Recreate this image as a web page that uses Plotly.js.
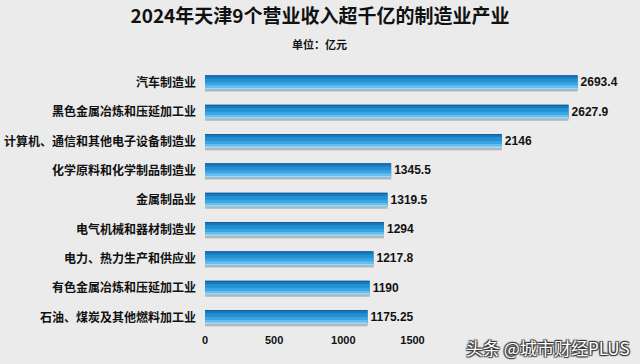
<!DOCTYPE html>
<html>
<head>
<meta charset="utf-8">
<script src="https://cdn.plot.ly/plotly-3.0.1.min.js"></script>
<style>html,body{margin:0;padding:0;background:#ebebeb;}#chart{width:640px;height:364px;}</style>
</head>
<body>
<div id="chart"></div>
<script>
const categories = [
  "汽车制造业",
  "黑色金属冶炼和压延加工业",
  "计算机、通信和其他电子设备制造业",
  "化学原料和化学制品制造业",
  "金属制品业",
  "电气机械和器材制造业",
  "电力、热力生产和供应业",
  "有色金属冶炼和压延加工业",
  "石油、煤炭及其他燃料加工业"
];
const values = [2693.4, 2627.9, 2146, 1345.5, 1319.5, 1294, 1217.8, 1190, 1175.25];
const valueLabels = ["2693.4", "2627.9", "2146", "1345.5", "1319.5", "1294", "1217.8", "1190", "1175.25"];
const xTicks = [0, 500, 1000, 1500];

const cjk = '"Noto Sans CJK SC", "Liberation Sans", sans-serif';
const num = '"Liberation Sans Narrow", "Liberation Sans", Arial, sans-serif';

// layered bands to imitate gradient + shadow
const bands = [
  {offset: -0.20, width: 0.50, color: 'rgba(130,130,130,0.5)'},
  {offset: -0.25, width: 0.48, color: '#2592d6'},
  {offset: -0.25, width: 0.05, color: '#12609a'},
  {offset: -0.20, width: 0.07, color: '#1a78bd'},
  {offset: -0.13, width: 0.12, color: '#2490d4'},
  {offset: -0.01, width: 0.10, color: '#3aa5e2'},
  {offset: 0.09, width: 0.08, color: '#63bfec'},
  {offset: 0.17, width: 0.06, color: '#a2dbf5'}
];

const traces = bands.map((b) => ({
  type: 'bar',
  orientation: 'h',
  y: categories,
  x: values,
  offset: b.offset,
  width: b.width,
  marker: {color: b.color, line: {width: 0}},
  hoverinfo: 'skip',
  showlegend: false
}));

traces.push({
  type: 'bar',
  orientation: 'h',
  y: categories,
  x: values,
  offset: -0.25,
  width: 0.48,
  marker: {color: 'rgba(0,0,0,0)'},
  text: valueLabels,
  textposition: 'outside',
  cliponaxis: false,
  textfont: {family: num, size: 12, color: '#111', weight: 'bold'},
  hoverinfo: 'skip',
  showlegend: false
});

const layout = {
  width: 640,
  height: 364,
  paper_bgcolor: '#ebebeb',
  plot_bgcolor: '#ebebeb',
  barmode: 'overlay',
  margin: {l: 205, r: 20, t: 68, b: 32},
  title: {
    text: '<b>2024年天津9个营业收入超千亿的制造业产业</b>',
    font: {family: cjk, size: 19, color: '#111'},
    x: 0.5, xanchor: 'center', y: 0.955, yanchor: 'middle'
  },
  annotations: [
    {text: '<b>单位：亿元</b>', xref: 'paper', yref: 'paper', x: 0.277, xanchor: 'center',
     y: 1, yanchor: 'bottom', yshift: 14, showarrow: false,
     font: {family: cjk, size: 11, color: '#111'}},
    {text: '头条 @城市财经PLUS', xref: 'paper', yref: 'paper', x: 1, xanchor: 'right',
     xshift: 12, y: 0, yanchor: 'middle', yshift: -15, showarrow: false,
     font: {family: cjk, size: 17, color: '#ffffff', shadow: '1px 1px 1px #333, -1px -1px 1px #333, 1px -1px 1px #333, -1px 1px 1px #333'}}
  ],
  xaxis: {
    range: [0, 3000],
    tickvals: xTicks,
    showgrid: false,
    zeroline: false,
    showline: false,
    ticks: '',
    tickfont: {family: num, size: 11, color: '#111', weight: 'bold'},
    fixedrange: true
  },
  yaxis: {
    autorange: 'reversed',
    showgrid: false,
    zeroline: false,
    ticks: '',
    ticklabelstandoff: 8,
    tickfont: {family: cjk, size: 12, color: '#111', weight: 'bold'},
    fixedrange: true
  }
};

Plotly.newPlot('chart', traces, layout, {displayModeBar: false, staticPlot: true});
</script>
</body>
</html>
